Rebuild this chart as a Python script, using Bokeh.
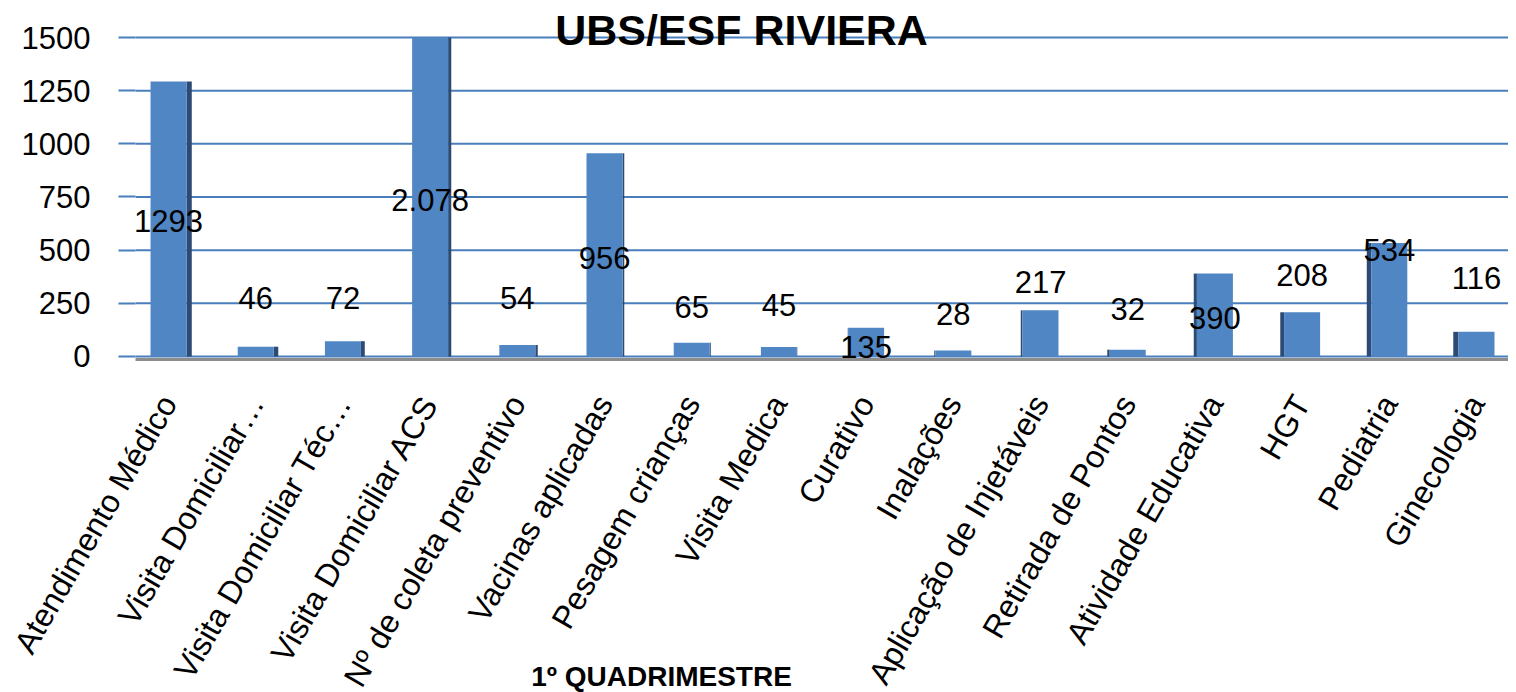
import math
from bokeh.plotting import figure
from bokeh.models import Range1d, FixedTicker, Label, ColumnDataSource
from bokeh.core.properties import value
from bokeh.embed import file_html
from bokeh.resources import INLINE

# ---- data ----
categories = [
    "Atendimento Médico", "Visita Domiciliar…", "Visita Domiciliar Téc…",
    "Visita Domiciliar ACS", "Nº de coleta preventivo", "Vacinas aplicadas",
    "Pesagem crianças", "Visita Medica", "Curativo", "Inalações",
    "Aplicação de Injetáveis", "Retirada de Pontos", "Atividade Educativa",
    "HGT", "Pediatria", "Ginecologia",
]
values = [1293, 46, 72, 2078, 54, 956, 65, 45, 135, 28, 217, 32, 390, 208, 534, 116]
value_labels = ["1293", "46", "72", "2.078", "54", "956", "65", "45", "135", "28",
                "217", "32", "390", "208", "534", "116"]
# where the chart placed each data label (data units, as in the original)
label_y = [635, 273, 273, 738, 277, 465, 235, 240, 47, 202, 348, 221, 179, 385, 503, 371]
y_ticks = [0, 250, 500, 750, 1000, 1250, 1500]
Y_MAX = 1500  # axis maximum: bars above it are cut at the top of the value axis
FLOOR = -16   # where the chart's grey floor line sits, just under zero

# ---- layout / style ----
FONT = "Liberation Sans"
BAR = "#5186c4"
SIDE = "#2b4a74"
GRID = "#4a7ebb"
BAR_W = 0.413
PLOT_X0, PLOT_X1 = -0.378, 15.367   # horizontal extent of the plotting area

idx = list(range(len(categories)))
mid = (len(categories) - 1) / 2
shown = [min(v, Y_MAX) for v in values]
side_w = [0.008 * abs(i - mid) for i in idx]
side_x = []
for i, sw in zip(idx, side_w):
    if i < mid:
        side_x.append(i + BAR_W / 2 + sw / 2)
    else:
        side_x.append(i - BAR_W / 2 - sw / 2)

p = figure(
    frame_width=1508, frame_height=692,
    x_range=Range1d(-1.927, PLOT_X1), y_range=Range1d(-1580, 1674),
    output_backend="svg", toolbar_location=None,
    min_border_left=0, min_border_right=0, min_border_top=0, min_border_bottom=0,
)
p.outline_line_color = None
p.background_fill_color = "white"
p.border_fill_color = "white"

# horizontal value gridlines, limited to the plotting area
p.xgrid.visible = False
p.ygrid.visible = False
p.segment(x0=[PLOT_X0] * len(y_ticks), x1=[PLOT_X1] * len(y_ticks),
          y0=y_ticks, y1=y_ticks, line_color=GRID, line_width=2)

src = ColumnDataSource(dict(x=idx, top=shown, sx=side_x, sw=side_w,
                            ly=label_y, lab=value_labels))

p.vbar(x="sx", top="top", width="sw", bottom=0, source=src,
       fill_color=SIDE, line_color=None)
p.vbar(x="x", top="top", width=BAR_W, bottom=0, source=src,
       fill_color=BAR, line_color=None)

p.text(x="x", y="ly", text="lab", source=src,
       text_font=value(FONT), text_font_size="31px", text_color="black",
       text_align="center", text_baseline="middle")

# y axis (drawn at the left edge of the plotting area)
p.yaxis.fixed_location = PLOT_X0
p.yaxis.ticker = FixedTicker(ticks=y_ticks)
p.yaxis.bounds = (0, Y_MAX)
p.yaxis.axis_line_color = None
p.yaxis.major_tick_line_color = GRID
p.yaxis.major_tick_line_width = 2
p.yaxis.major_tick_out = 17
p.yaxis.major_tick_in = 0
p.yaxis.minor_tick_line_color = None
p.yaxis.major_label_standoff = 28
p.yaxis.major_label_text_font = FONT
p.yaxis.major_label_text_font_size = "31px"
p.yaxis.major_label_text_color = "black"

# x axis (drawn at the floor of the chart)
p.xaxis.fixed_location = FLOOR
p.xaxis.bounds = (PLOT_X0, PLOT_X1)
p.xaxis.ticker = FixedTicker(ticks=idx)
p.xaxis.major_label_overrides = {i: c for i, c in zip(idx, categories)}
p.xaxis.major_label_orientation = math.pi / 3
p.xaxis.axis_line_color = "#8c8c8c"
p.xaxis.axis_line_width = 3
p.xaxis.major_tick_line_color = None
p.xaxis.minor_tick_line_color = None
p.xaxis.major_label_standoff = 32
p.xaxis.major_label_text_font = FONT
p.xaxis.major_label_text_font_size = "32px"
p.xaxis.major_label_text_color = "black"

# title and axis title
p.add_layout(Label(x=741, y=663, x_units="screen", y_units="screen",
                   text="UBS/ESF RIVIERA", text_font=FONT, text_font_size="43px",
                   text_font_style="bold", text_align="center", text_baseline="middle",
                   text_color="black"))
p.add_layout(Label(x=661, y=16, x_units="screen", y_units="screen",
                   text="1º QUADRIMESTRE", text_font=FONT, text_font_size="28px",
                   text_font_style="bold", text_align="center", text_baseline="middle",
                   text_color="black"))

open("out.html", "w").write(file_html(p, INLINE))
